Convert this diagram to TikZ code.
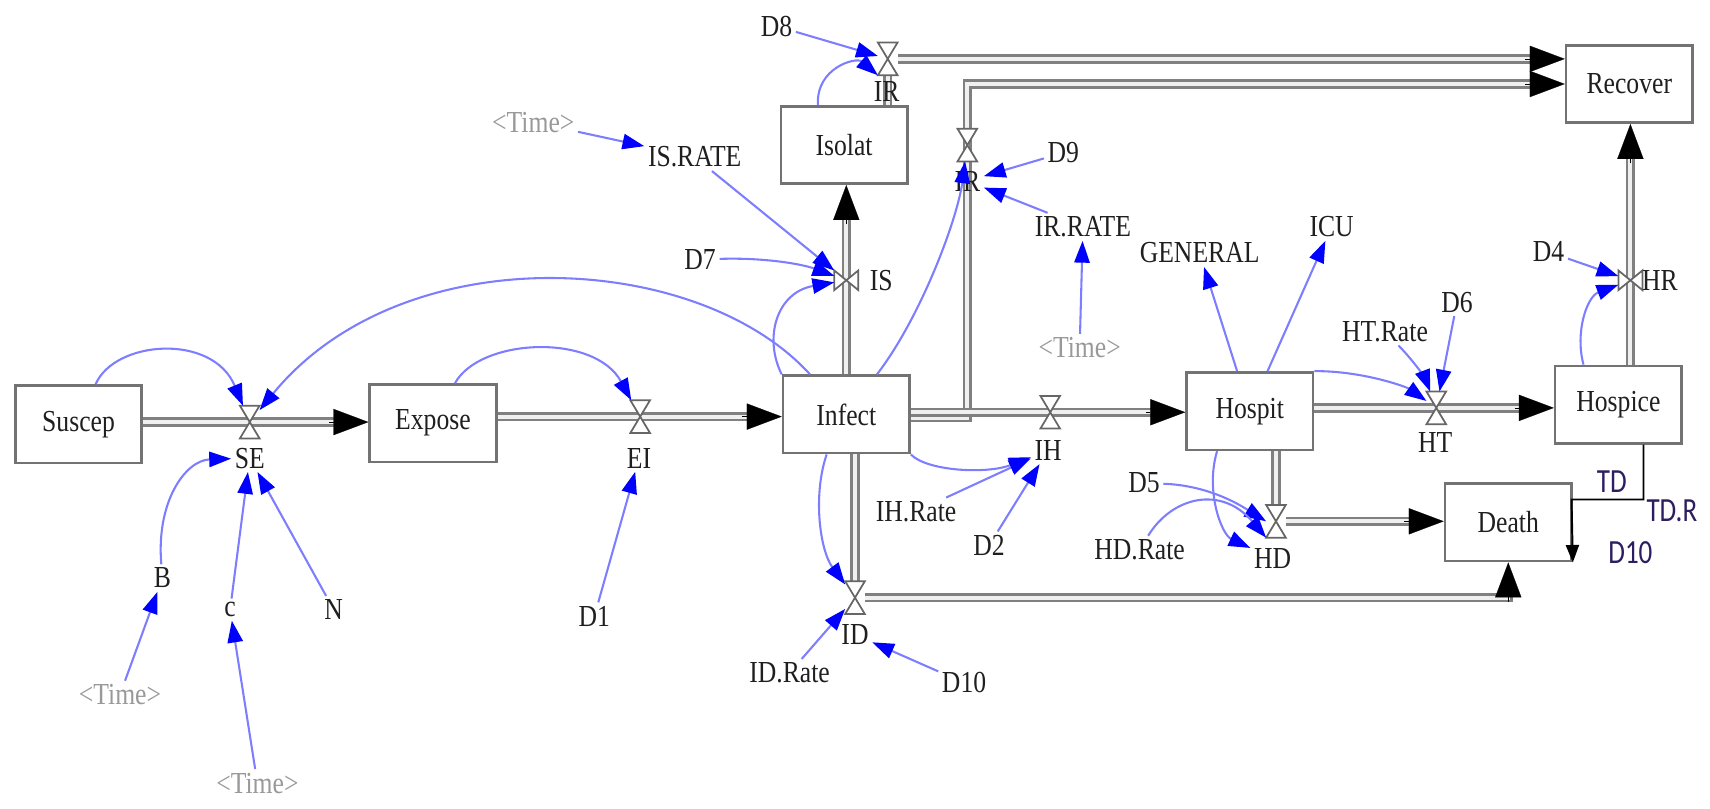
\documentclass[tikz,border=0pt]{standalone}
\usepackage{fontspec}
\setmainfont{Liberation Serif}[FakeStretch=0.84]
\newfontfamily\tdfont{Carlito}[FakeStretch=0.8]
\usetikzlibrary{arrows.meta,calc}
\definecolor{linkblue}{RGB}{125,125,255}
\definecolor{tipblue}{RGB}{0,0,255}
\definecolor{navy}{RGB}{45,30,95}
\newcommand\valveH[1]{\filldraw[valveline] (#1.north west) -- (#1.north east) -- (#1.center) -- cycle (#1.south west) -- (#1.south east) -- (#1.center) -- cycle;}
\newcommand\valveV[1]{\filldraw[valveline] (#1.north west) -- (#1.south west) -- (#1.center) -- cycle (#1.north east) -- (#1.south east) -- (#1.center) -- cycle;}
\begin{document}
\begin{tikzpicture}[x=0.5pt,y=-0.5pt,
  every node/.style={font=\fontsize{14}{16}\selectfont, text=black!88, inner sep=1.5pt},
  stock/.style={draw=black!55, line width=1.2pt, fill=white, minimum width=58pt, minimum height=35.5pt, inner sep=0pt},
  hv/.style={minimum width=9pt, minimum height=15pt, inner sep=0pt, outer sep=0pt},
  vv/.style={minimum width=11pt, minimum height=9pt, inner sep=0pt, outer sep=0pt},
  valveline/.style={draw=black!60, fill=white, line width=0.8pt},
  pipe/.style={draw=black!50, line width=1.25pt, double=black!6, double distance=1.8pt, shorten >=10pt},
  ptip/.style={black, line width=0.1pt, -{Triangle[length=16pt,width=12pt]}},
  conn/.style={draw=linkblue, line width=0.95pt, -{Triangle[length=10pt,width=7pt,color=tipblue]}},
  timevar/.style={text=black!40},
  tdlabel/.style={font=\tdfont\fontsize{15.5}{17}\selectfont, text=navy},
  tdline/.style={black, line width=0.9pt, -{Triangle[length=8pt,width=6pt]}}]
\useasboundingbox (0,0) rectangle (1568,741);

% stocks
\node[stock] (Suscep) at (72,389) {Suscep};
\node[stock] (Expose) at (397,388) {Expose};
\node[stock] (Infect) at (776,380) {Infect};
\node[stock] (Isolat) at (774,133) {Isolat};
\node[stock] (Hospit) at (1146,377) {Hospit};
\node[stock] (Hospice) at (1484,371) {Hospice};
\node[stock] (Recover) at (1494,77) {Recover};
\node[stock] (Death) at (1383,479) {Death};

% valve nodes
\node[hv] (SEv) at (229,387) {};
\node[hv] (EIv) at (587,382) {};
\node[vv] (ISv) at (776,257) {};
\node[hv] (IRv) at (814,54) {};
\node[hv] (IR2v) at (887,133) {};
\node[hv] (IHv) at (963,378) {};
\node[hv] (HTv) at (1317,374) {};
\node[vv] (HRv) at (1495,257) {};
\node[hv] (HDv) at (1170,478) {};
\node[hv] (IDv) at (784,548) {};
\coordinate (ir2c) at (887,383);

% pipes
\draw[pipe] (Suscep.east |- SEv) -- (Expose.west |- SEv);
\draw[ptip] ([xshift=-18pt]Expose.west |- SEv) -- (Expose.west |- SEv);
\draw[pipe] (Expose.east |- EIv) -- (Infect.west |- EIv);
\draw[ptip] ([xshift=-18pt]Infect.west |- EIv) -- (Infect.west |- EIv);
\draw[pipe] (Infect.north -| ISv) -- (Isolat.south -| ISv);
\draw[ptip] ([yshift=-18pt]Isolat.south -| ISv) -- (Isolat.south -| ISv);
\draw[pipe] (Isolat.north -| IRv) -- (IRv) -- (Recover.west |- IRv);
\draw[ptip] ([xshift=-18pt]Recover.west |- IRv) -- (Recover.west |- IRv);
\draw[pipe] (Infect.east |- ir2c) -- (ir2c) -- (ir2c |- Recover.west) -- (Recover.west);
\draw[ptip] ([xshift=-18pt]Recover.west) -- (Recover.west);
\draw[pipe] (Infect.east |- IHv) -- (Hospit.west |- IHv);
\draw[ptip] ([xshift=-18pt]Hospit.west |- IHv) -- (Hospit.west |- IHv);
\draw[pipe] (Hospit.east |- HTv) -- (Hospice.west |- HTv);
\draw[ptip] ([xshift=-18pt]Hospice.west |- HTv) -- (Hospice.west |- HTv);
\draw[pipe] (Hospice.north -| HRv) -- (Recover.south -| HRv);
\draw[ptip] ([yshift=-18pt]Recover.south -| HRv) -- (Recover.south -| HRv);
\draw[pipe] (Hospit.south -| HDv) -- (HDv) -- (Death.west |- HDv);
\draw[ptip] ([xshift=-18pt]Death.west |- HDv) -- (Death.west |- HDv);
\draw[pipe] (Infect.south -| IDv) -- (IDv) -- (IDv -| Death.south) -- (Death.south);
\draw[ptip] ([yshift=-18pt]Death.south) -- (Death.south);

% valves
\valveH{SEv} \valveH{EIv} \valveV{ISv} \valveH{IRv} \valveH{IR2v}
\valveH{IHv} \valveH{HTv} \valveV{HRv} \valveH{HDv} \valveH{IDv}

% flow labels
\node (SElbl) at (229,420) {SE};
\node (EIlbl) at (586,420) {EI};
\node (ISlbl) at (808,257) {IS};
\node (IRlbl) at (813,84) {IR};
\node (IR2lbl) at (887,166) {IR};
\node (IHlbl) at (961,413) {IH};
\node (HTlbl) at (1316,406) {HT};
\node (HRlbl) at (1522,257) {HR};
\node (HDlbl) at (1167,512) {HD};
\node (IDlbl) at (784,582) {ID};

% auxiliaries
\node (B) at (149,530) {B};
\node (c) at (211,559) {c};
\node (N) at (306,559) {N};
\node[timevar] (T1) at (110,637) {<Time>};
\node[timevar] (T2) at (236,718) {<Time>};
\node (D1) at (545,565) {D1};
\node[timevar] (T3) at (489,112) {<Time>};
\node (ISR) at (637,144) {IS.RATE};
\node (D7) at (642,238) {D7};
\node (D8) at (712,24) {D8};
\node (D9) at (975,140) {D9};
\node (IRR) at (993,208) {IR.RATE};
\node[timevar] (T4) at (990,319) {<Time>};
\node (GEN) at (1100,232) {GENERAL};
\node (ICU) at (1221,208) {ICU};
\node (HTR) at (1270,304) {HT.Rate};
\node (D6) at (1336,277) {D6};
\node (D4) at (1420,231) {D4};
\node (IHR) at (840,469) {IH.Rate};
\node (D2) at (907,500) {D2};
\node (D5) at (1049,443) {D5};
\node (HDR) at (1045,504) {HD.Rate};
\node (IDR) at (724,617) {ID.Rate};
\node (D10) at (884,626) {D10};
\node[tdlabel] (TD) at (1478,442) {TD};
\node[tdlabel] (TDR) at (1533,468) {TD.R};
\node[tdlabel] (D10b) at (1495,507) {D10};

% black TD link
\coordinate (tdA) at (1507,458);
\coordinate (tdB) at (1441,458);
\draw[tdline] (Hospice.south -| tdA) -- (tdA) -- (tdB) -- (Death.south east);

% blue connectors
\draw[conn] (Suscep) .. controls (105,312) and (195,305) .. (SEv);
\draw[conn] (Infect) .. controls (640,230) and (370,215) .. (SEv);
\draw[conn] (Expose) .. controls (440,310) and (545,305) .. (EIv);
\draw[conn] (B) .. controls (143,460) and (170,422) .. (SElbl);
\draw[conn] (c) -- (SElbl);
\draw[conn] (N) -- (SElbl);
\draw[conn] (T1) -- (B);
\draw[conn] (T2) -- (c);
\draw[conn] (D1) -- (EIlbl);
\draw[conn] (T3) -- (ISR);
\draw[conn] (ISR) -- (ISv);
\draw[conn] (D7) .. controls (700,236) and (735,242) .. (ISv);
\draw[conn] (Infect.north west) .. controls (700,310) and (712,268) .. (ISv);
\draw[conn] (Infect) .. controls (845,290) and (878,200) .. (IR2v);
\draw[conn] (D8) -- (IRv);
\draw[conn] ([xshift=-12pt]Isolat.north) .. controls (748,62) and (785,52) .. (IRv.south west);
\draw[conn] (D9) -- (IR2lbl);
\draw[conn] (IRR) -- (IR2lbl);
\draw[conn] (T4) -- (IRR);
\draw[conn] (Hospit) -- (GEN);
\draw[conn] (Hospit) -- (ICU);
\draw[conn] (Hospit.north east) .. controls (1250,340) and (1290,355) .. (HTv);
\draw[conn] (HTR) .. controls (1300,335) and (1308,350) .. (HTv);
\draw[conn] (D6) -- (HTv);
\draw[conn] (D4) -- (HRv);
\draw[conn] ([xshift=-16pt]Hospice.north) .. controls (1444,305) and (1455,272) .. (HRv);
\draw[conn] (Infect.south east) .. controls (850,432) and (905,435) .. (IHlbl);
\draw[conn] (IHR) -- (IHlbl);
\draw[conn] (D2) -- (IHlbl);
\draw[conn] (D5) .. controls (1110,445) and (1140,465) .. (HDv.west);
\draw[conn] (HDR) .. controls (1075,455) and (1120,445) .. (HDv.south west);
\draw[conn] ([xshift=-15pt]Hospit.south) .. controls (1105,450) and (1120,490) .. (HDlbl);
\draw[conn] ([xshift=-9pt]Infect.south) .. controls (745,455) and (752,505) .. (IDv);
\draw[conn] (IDR) -- (IDv);
\draw[conn] (D10) -- (IDlbl);
\end{tikzpicture}
\end{document}
